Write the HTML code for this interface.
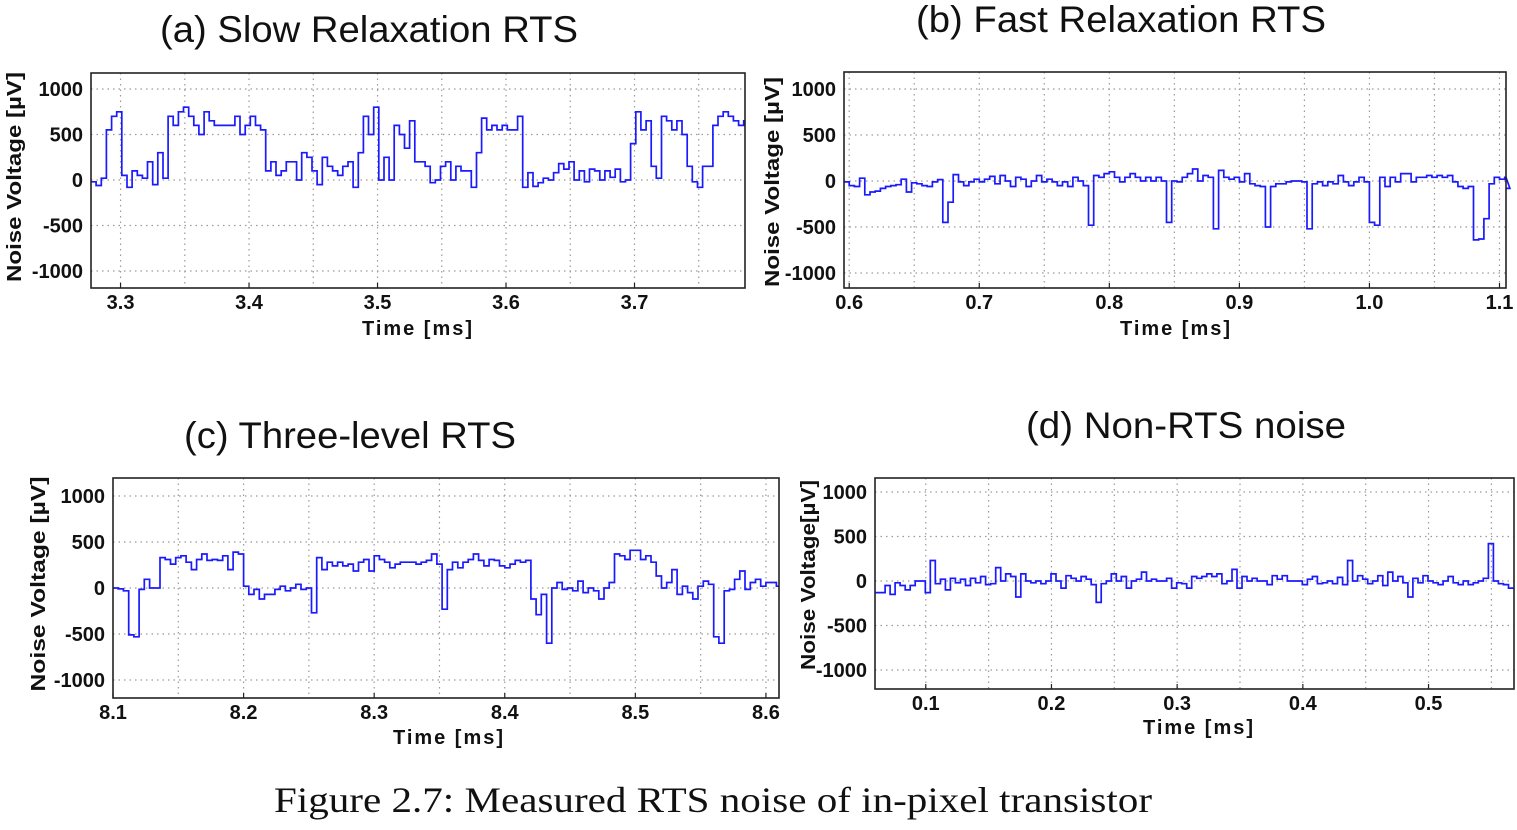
<!DOCTYPE html>
<html><head><meta charset="utf-8"><style>
html,body{margin:0;padding:0;background:#fff;}
svg{display:block;}
text{font-family:"Liberation Sans",Arial,sans-serif;}
.tk{font-weight:bold;font-size:20px;fill:#111;}
.ttl{font-size:37px;fill:#111;}
.cap{font-family:"Liberation Serif",serif;font-size:36px;fill:#111;}
</style></head><body>
<svg id="fig" width="1517" height="830" viewBox="0 0 1517 830" xmlns="http://www.w3.org/2000/svg">
<text class="cap" x="713" y="812" text-anchor="middle" textLength="878" lengthAdjust="spacingAndGlyphs">Figure 2.7: Measured RTS noise of in-pixel transistor</text>
</svg>
<script>
// Panel (a) slow relaxation RTS: start time, sample step (ms), values (uV)
const slowT0 = 3.277;
const slowDt = 0.004;
const slowValues = [-20,-60,20,550,700,750,50,-80,100,50,20,200,-50,300,20,700,600,750,800,700,600,500,750,650,600,600,600,600,700,500,600,700,600,550,100,200,50,100,200,200,0,300,250,100,-50,250,150,100,50,150,200,-80,300,700,500,800,0,250,0,600,500,350,650,200,200,150,-30,0,150,200,0,150,100,100,-80,300,680,550,600,550,600,550,550,700,-80,80,-70,-30,20,0,80,180,120,200,0,100,-20,120,100,0,100,30,120,-20,0,400,750,550,650,150,20,700,650,550,650,500,150,-20,-80,150,150,600,700,750,700,650,600,650];
const slowTicks = [3.3,3.4,3.5,3.6,3.7];
// Panel (b) fast relaxation RTS
const fastT0 = 0.596;
const fastDt = 0.004;
const fastValues = [-10,-50,-60,30,-150,-120,-110,-80,-60,-50,-40,20,-120,-20,-30,-50,-60,-10,15,-450,-230,70,-10,-50,-10,20,-10,20,50,-30,60,0,-60,40,20,-60,0,60,-10,20,-10,-50,-10,-60,40,0,-50,-480,60,40,80,100,40,-10,40,80,40,0,40,0,40,0,-450,0,-10,40,80,130,0,60,40,-520,115,40,20,40,-10,80,-30,-50,-60,-500,-60,-30,-30,-10,0,0,-10,-520,-30,-10,-50,-10,-30,60,-10,-50,-10,40,-10,-450,-480,40,-60,40,-10,80,80,-10,40,40,60,40,60,40,60,-10,-60,-80,-60,-640,-630,-410,-30,40,20,40,-80];
const fastTicks = [0.6,0.7,0.8,0.9,1.0,1.1];
const fastTickLabels = ["0.6","0.7","0.8","0.9","1.0","1.1"];
// Panel (c) three-level RTS
const threeT0 = 8.1;
const threeDt = 0.004;
const threeValues = [0,-10,-30,-510,-530,-15,95,0,0,330,310,260,330,350,280,200,310,370,300,310,300,350,200,390,370,20,-70,-15,-120,-70,-70,-15,20,-30,0,40,-15,0,-270,330,200,280,240,280,240,260,185,280,310,185,350,310,280,220,260,280,280,280,260,280,300,370,260,-230,200,280,220,280,310,370,300,240,310,300,240,220,260,300,280,300,-120,-290,-70,-600,0,60,-15,0,-30,75,-50,0,-30,-120,0,60,370,350,310,410,410,310,350,280,130,0,60,200,-70,20,-50,-120,20,75,40,-530,-600,-30,-15,95,185,-15,60,95,20,60,60,20];
const threeTicks = [8.1,8.2,8.3,8.4,8.5,8.6];
// Panel (d) non-RTS noise
const nonT0 = 0.0596;
const nonDt = 0.004;
const nonValues = [-130,-130,-50,-150,-20,-50,-100,-50,0,0,-130,230,-30,20,-100,30,-20,20,-50,30,-20,50,-40,-30,150,0,80,50,-180,80,0,-20,0,-30,0,80,0,-80,60,30,0,50,20,-40,-240,-30,0,80,0,50,-80,0,20,100,0,20,0,0,30,-80,-20,-30,-80,50,30,50,80,50,80,-30,0,130,-80,50,0,30,0,0,-40,60,20,60,0,0,0,-40,20,50,-30,-20,0,-30,40,-40,230,0,60,20,-30,0,60,-50,100,0,50,-20,-180,30,-20,60,0,-20,-40,0,50,-20,-40,0,-40,-20,0,30,420,0,-30,-40,-80];
const nonTicks = [0.1,0.2,0.3,0.4,0.5];
const yTicks = [1000,500,0,-500,-1000];

const NS='http://www.w3.org/2000/svg';
const svg=document.getElementById('fig');
function mk(tag,attrs,parent){const e=document.createElementNS(NS,tag);for(const k in attrs)e.setAttribute(k,attrs[k]);(parent||svg).appendChild(e);return e;}

function panel(cfg){
  const g=mk('g',{});
  
  
  const x=t=>cfg.L+(t-cfg.tMin)/(cfg.tMax-cfg.tMin)*(cfg.R-cfg.L);
  const y=v=>cfg.y0+(-v/1000)*(cfg.y0-cfg.y1000);
  const gg=mk('g',{stroke:'#9a9a9a','stroke-width':1.2,'stroke-dasharray':'1.5 4'},g);
  
  
  for(let t=Math.ceil(cfg.tMin*20)/20;t<cfg.tMax;t+=0.05){const xx=x(t);if(xx>cfg.L+2&&xx<cfg.R-2)mk('line',{x1:xx,x2:xx,y1:cfg.T,y2:cfg.B},gg);}
  yTicks.forEach(v=>{mk('line',{x1:cfg.L,x2:cfg.R,y1:y(v),y2:y(v)},gg);});
  let d='';
  cfg.vals.forEach((v,i)=>{const t0=cfg.t0+i*cfg.dt,t1=Math.min(t0+cfg.dt,cfg.tMax);const xa=x(Math.max(t0,cfg.tMin)),xb=x(t1),yy=y(v);d+=(i?'L':'M')+xa.toFixed(1)+','+yy.toFixed(1)+'L'+xb.toFixed(1)+','+yy.toFixed(1);});
  const p=mk('path',{d:d,fill:'none',stroke:'#1a1aff','stroke-width':1.7},g);
  
  
  const f=mk('rect',{x:cfg.L,y:cfg.T,width:cfg.R-cfg.L,height:cfg.B-cfg.T,fill:'none',stroke:'#222','stroke-width':1.6},g);
  
  
  cfg.ticks.forEach((t,i)=>{const xx=x(t);
    mk('line',{x1:xx,x2:xx,y1:cfg.B,y2:cfg.B-5,stroke:'#222','stroke-width':1.2},g);
    const tl=mk('text',{class:'tk',x:xx,y:cfg.B+21,'text-anchor':'middle'},g);
    
    
    tl.textContent=cfg.tickLabels?cfg.tickLabels[i]:t.toFixed(1);});
  yTicks.forEach(v=>{
    const tl=mk('text',{class:'tk',x:cfg.L-8,y:y(v)+7,'text-anchor':'end'},g);
    
    
    tl.textContent=String(v);});
  const xt=mk('text',{class:'tk',x:cfg.xtX,y:cfg.xtY,'text-anchor':'middle',textLength:110,lengthAdjust:'spacing'},g);
  
  
  xt.textContent='Time [ms]';
  const yt=mk('text',{class:'tk',x:0,y:0,'text-anchor':'middle',transform:'translate('+cfg.ytX+','+cfg.ytY+') rotate(-90)',textLength:cfg.ytLen,lengthAdjust:'spacingAndGlyphs'},g);
  
  
  yt.textContent=cfg.ylab;
  const tt=mk('text',{class:'ttl',x:cfg.tX,y:cfg.tY,'text-anchor':'middle',textLength:cfg.tLen,lengthAdjust:'spacingAndGlyphs'},g);
  
  
  tt.textContent=cfg.title;
}
panel({name:'panel-a-slow-relaxation',L:91,R:745,T:73,B:288,tMin:3.277,tMax:3.786,y0:180,y1000:89,t0:slowT0,dt:slowDt,vals:slowValues,ticks:slowTicks,
  xtX:417,xtY:335,ytX:21,ytY:177,ytLen:210,ylab:'Noise Voltage [\u00b5V]',tX:369,tY:42,tLen:418,title:'(a) Slow Relaxation RTS'});
panel({name:'panel-b-fast-relaxation',L:844,R:1506,T:72,B:288,tMin:0.596,tMax:1.105,y0:181,y1000:89,t0:fastT0,dt:fastDt,vals:fastValues,ticks:fastTicks,tickLabels:fastTickLabels,
  xtX:1175,xtY:335,ytX:779,ytY:182,ytLen:210,ylab:'Noise Voltage [\u00b5V]',tX:1121,tY:32,tLen:410,title:'(b) Fast Relaxation RTS'});
panel({name:'panel-c-three-level',L:113,R:779,T:478,B:698,tMin:8.1,tMax:8.61,y0:588,y1000:496,t0:threeT0,dt:threeDt,vals:threeValues,ticks:threeTicks,
  xtX:448,xtY:744,ytX:45,ytY:584,ytLen:215,ylab:'Noise Voltage [\u00b5V]',tX:350,tY:448,tLen:332,title:'(c) Three-level RTS'});
panel({name:'panel-d-non-rts',L:875,R:1514,T:478,B:689,tMin:0.0596,tMax:0.568,y0:581,y1000:492,t0:nonT0,dt:nonDt,vals:nonValues,ticks:nonTicks,
  xtX:1198,xtY:734,ytX:815,ytY:575,ytLen:190,ylab:'Noise Voltage[\u00b5V]',tX:1186,tY:438,tLen:320,title:'(d) Non-RTS noise'});
</script>
</body></html>
